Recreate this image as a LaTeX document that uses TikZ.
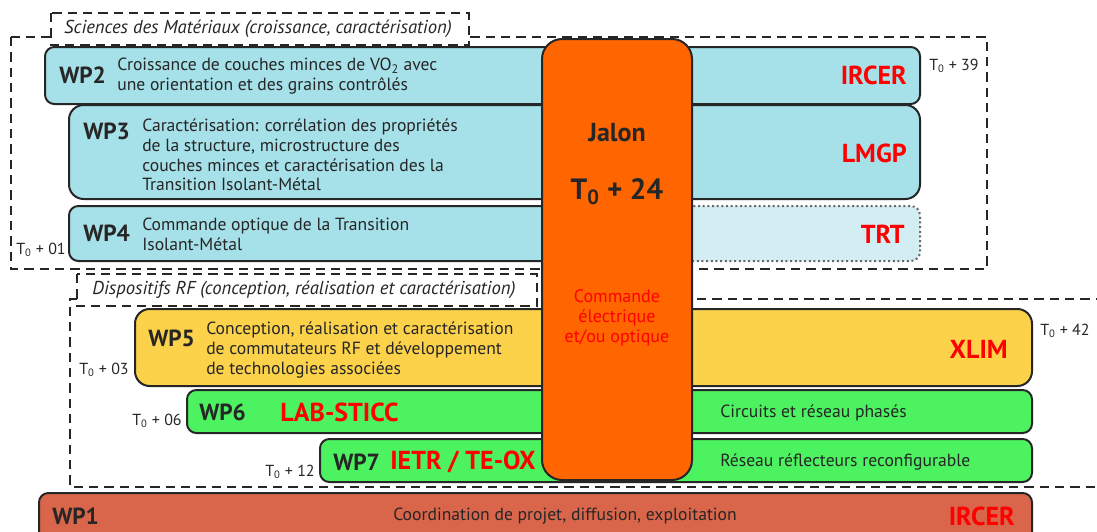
\documentclass[tikz,border=0pt]{standalone}
\usepackage{fontspec}
\setmainfont{PT Sans}
\usetikzlibrary{positioning}
\definecolor{wpcyan}{RGB}{166,224,232}
\definecolor{wpcyanlight}{RGB}{211,238,243}
\definecolor{jalonorange}{RGB}{255,102,0}
\definecolor{wpyellow}{RGB}{252,210,74}
\definecolor{wpgreen}{RGB}{76,242,96}
\definecolor{wpbrick}{RGB}{217,101,74}
\definecolor{labred}{RGB}{255,0,0}
\definecolor{ink}{RGB}{38,38,38}
\tikzset{
  wp/.style={draw=ink,line width=1.5pt,rounded corners=7pt},
  group/.style={draw=ink,line width=1.4pt,dash pattern=on 7pt off 4.5pt},
  wpname/.style={font=\fontsize{17.5}{20}\selectfont\bfseries,text=ink,inner sep=0pt,anchor=west},
  desc/.style={font=\fontsize{13.2}{14.8}\selectfont,text=ink,inner sep=0pt,anchor=west,align=left},
  lab/.style={font=\fontsize{19.5}{22}\selectfont\bfseries,text=labred,inner sep=0pt},
  date/.style={font=\fontsize{12}{14}\selectfont,text=ink,inner sep=0pt},
  grouptxt/.style={font=\fontsize{14}{16}\selectfont\itshape,text=ink,inner sep=0pt}
}
\newcommand{\Tzero}{T\textsubscript{0}}

\begin{document}
\begin{tikzpicture}[x=0.75pt,y=-0.75pt]
    \useasboundingbox (0,0) rectangle (1097,532);

    % groupes de WP
    \draw[group] (11,37) rectangle (987,269);
    \draw[group] (1105,299) -- (70,299) -- (70,487) -- (1105,487);
    \draw[group,fill=white] (51,13) rectangle (469,45);
    \node[grouptxt] (sciences) at (258,29) {Sciences des Matériaux (croissance, caractérisation)};
    \draw[group,fill=white] (77,274) rectangle (537,306);
    \node[grouptxt] (rf) at (304,290) {Dispositifs RF (conception, réalisation et caractérisation)};

    % materiaux
    \draw[wp,fill=wpcyan] (45,47) rectangle (920,104);
    \draw[wp,fill=wpcyan,rounded corners=11pt] (69,105) rectangle (920,199);
    \draw[wp,fill=wpcyanlight,draw=ink!70,dotted] (600,206) -- (920,206) -- (920,261) -- (600,261);
    \draw[wp,fill=wpcyan] (620,206) -- (69,206) -- (69,261) -- (620,261);

    % dispositifs RF
    \draw[wp,fill=wpyellow,rounded corners=11pt] (135,309) rectangle (1032,386);
    \draw[wp,fill=wpgreen] (187,390) rectangle (1032,433);
    \draw[wp,fill=wpgreen] (320,439) rectangle (1032,482);

    % coordination
    \draw[wp,fill=wpbrick] (39,493) rectangle (1032,548);

    % jalon
    \draw[wp,fill=jalonorange,rounded corners=15pt] (542,39) rectangle (692,480);

    \node[wpname] (wp2) at (59,75) {WP2};
    \node[desc] (wp2txt) at (117,76) {Croissance de couches minces de VO\textsubscript{2} avec\\une orientation et des grains contrôlés};
    \node[lab,anchor=east] (ircer) at (907,75) {IRCER};

    \node[wpname] (wp3) at (83,131) {WP3};
    \node[desc] (wp3txt) at (142,155) {Caractérisation: corrélation des propriétés\\de la structure, microstructure des\\couches minces et caractérisation des la\\Transition Isolant-Métal};
    \node[lab,anchor=east] (lmgp) at (907,153) {LMGP};

    \node[wpname] (wp4) at (83,233) {WP4};
    \node[desc] (wp4txt) at (142,234) {Commande optique de la Transition\\Isolant-Métal};
    \node[lab,anchor=east] (trt) at (905,234) {TRT};

    \node[wpname] (wp5) at (148,338) {WP5};
    \node[desc] (wp5txt) at (206,350) {Conception, réalisation et caractérisation\\de commutateurs RF et développement\\de technologies associées};
    \node[lab,anchor=east] (xlim) at (1008,349) {XLIM};

    \node[wpname] (wp6) at (199,412) {WP6};
    \node[lab,anchor=west] (labsticc) at (280,412) {LAB-STICC};
    \node[desc] (wp6txt) at (720,413) {Circuits et réseau phasés};

    \node[wpname] (wp7) at (333,462) {WP7};
    \node[lab,anchor=west] (ietr) at (390,462) {IETR / TE-OX};
    \node[desc] (wp7txt) at (720,462) {Réseau réflecteurs reconfigurable};

    \node[wpname] (wp1) at (52,516) {WP1};
    \node[desc,anchor=center] (wp1txt) at (565,516) {Coordination de projet, diffusion, exploitation};
    \node[lab,anchor=east] (ircerb) at (1015,516) {IRCER};

    % texte du jalon
    \node[wpname,anchor=center,font=\fontsize{19.5}{22}\selectfont\bfseries] (jalon) at (617,133) {Jalon};
    \node[wpname,anchor=center,font=\fontsize{22}{24}\selectfont\bfseries] (t24) at (617,192) {\Tzero{} + 24};
    \node[desc,anchor=center,align=center,text=labred,font=\fontsize{13.5}{15}\selectfont] (cmd) at (617,318) {Commande\\électrique\\et/ou optique};

    % dates
    \node[date,anchor=east] (d01) at (66,250) {\Tzero{} + 01};
    \node[date,anchor=west] (d39) at (929,66) {\Tzero{} + 39};
    \node[date,anchor=west] (d42) at (1040,331) {\Tzero{} + 42};
    \node[date,anchor=east] (d03) at (129,370) {\Tzero{} + 03};
    \node[date,anchor=east] (d06) at (182,421) {\Tzero{} + 06};
    \node[date,anchor=east] (d12) at (315,472) {\Tzero{} + 12};
\end{tikzpicture}
\end{document}
